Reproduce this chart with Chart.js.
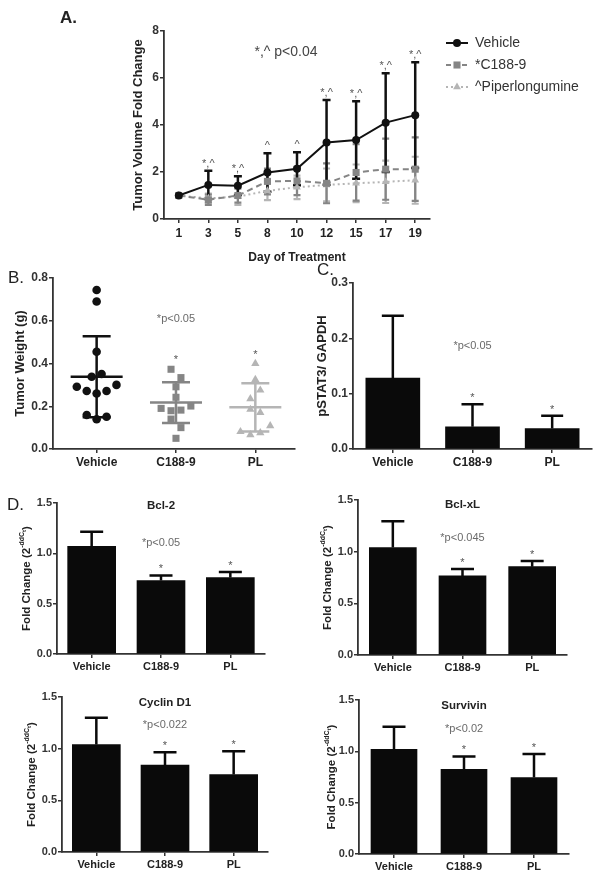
<!DOCTYPE html>
<html><head><meta charset="utf-8">
<script src="https://cdn.jsdelivr.net/npm/chart.js@4.4.1/dist/chart.umd.min.js"></script>
<style>
html,body{margin:0;padding:0;background:#fff;width:602px;height:881px;overflow:hidden;position:relative;}
canvas{position:absolute;}
</style></head><body>
<canvas id="cA" style="left:0px;top:0px" width="602" height="272"></canvas>
<canvas id="cB" style="left:0px;top:258px" width="300" height="215"></canvas>
<canvas id="cC" style="left:290px;top:255px" width="312" height="218"></canvas>
<canvas id="cBcl2" style="left:0px;top:490px" width="300" height="190"></canvas>
<canvas id="cBclxl" style="left:300px;top:490px" width="302" height="190"></canvas>
<canvas id="cCyc" style="left:0px;top:685px" width="300" height="196"></canvas>
<canvas id="cSurv" style="left:300px;top:685px" width="302" height="196"></canvas>
<script>
// ---------------- DATA ----------------
// Panel A: tumor volume fold change
const days = ['1','3','5','8','10','12','15','17','19'];
const vehicleFold   = [1.0, 1.45, 1.42, 1.98, 2.14, 3.26, 3.36, 4.10, 4.42];
const vehicleFoldSD = [0,   0.60, 0.40, 0.82, 0.70, 1.80, 1.65, 2.10, 2.25];
const c188Fold      = [1.0, 0.82, 1.00, 1.60, 1.62, 1.52, 1.98, 2.12, 2.12];
const c188FoldSD    = [0,   0.22, 0.30, 0.55, 0.60, 0.85, 1.20, 1.30, 1.35];
const plFold        = [1.0, 0.88, 0.95, 1.20, 1.35, 1.45, 1.52, 1.58, 1.65];
const plFoldSD      = [0,   0.20, 0.35, 0.40, 0.50, 0.70, 0.80, 0.90, 1.00];
const foldSig       = ['', '*,^', '*,^', '^', '^', '*,^', '*,^', '*,^', '*,^'];
const seriesNames   = ['Vehicle', '*C188-9', '^Piperlongumine'];

// Panel B: tumor weight (g)
const groups = ['Vehicle', 'C188-9', 'PL'];
const weightVehicle = [0.744, 0.69, 0.455, 0.338, 0.351, 0.291, 0.271, 0.26, 0.271, 0.30, 0.159, 0.139, 0.151];
const weightC188    = [0.373, 0.334, 0.291, 0.242, 0.19, 0.179, 0.182, 0.201, 0.14, 0.10, 0.05];
const weightPL      = [0.40, 0.325, 0.235, 0.275, 0.185, 0.17, 0.081, 0.066, 0.076, 0.108];
const weightMean    = [0.338, 0.217, 0.195];
const weightSD      = [0.19, 0.095, 0.113];
const weightSig     = ['', '*', '*'];

// Panel C: pSTAT3 / GAPDH
const pstat    = [0.128, 0.040, 0.037];
const pstatErr = [0.113, 0.041, 0.023];

// Panel D: qPCR fold change
const bcl2      = [1.07, 0.73, 0.76];
const bcl2Err   = [0.145, 0.05, 0.055];
const bclxl     = [1.04, 0.765, 0.855];
const bclxlErr  = [0.255, 0.067, 0.055];
const cyclin    = [1.04, 0.84, 0.75];
const cyclinErr = [0.26, 0.125, 0.225];
const survivin    = [1.02, 0.825, 0.745];
const survivinErr = [0.22, 0.125, 0.23];
const barSig = ['', '*', '*'];

// ---------------- STYLE ----------------
const FONT = '"Liberation Sans", Arial, Helvetica, sans-serif';
const VEH = '#111111', C188 = '#858585', PL = '#b5b5b5', AXIS = '#333333', TXT = '#222222', NOTE = '#6a6a6a';
Chart.defaults.font.family = FONT;
Chart.defaults.color = TXT;
Chart.defaults.animation = false;
Chart.defaults.responsive = false;
Chart.defaults.devicePixelRatio = 1;
Chart.defaults.plugins.legend.display = false;
Chart.defaults.plugins.tooltip.enabled = false;

function yScale(min, max, step, fs, width, dec) {
  return {
    min: min, max: max,
    ticks: {stepSize: step, font: {size: fs, weight: 'bold'}, color: '#333', padding: 1,
            callback: v => dec ? Number(v).toFixed(dec) : v},
    grid: {display: true, drawOnChartArea: false, drawTicks: true, tickLength: 4, color: AXIS, lineWidth: 1.5},
    border: {display: true, color: AXIS, width: 1.8},
    afterFit(s) { s.width = width; }
  };
}
function xCat(fs, height, pad) {
  return {
    type: 'category', offset: true,
    ticks: {font: {size: fs, weight: 'bold'}, color: TXT, padding: pad, maxRotation: 0, autoSkip: false},
    grid: {display: true, offset: false, drawOnChartArea: false, drawTicks: true, tickLength: 4, color: AXIS, lineWidth: 1.5},
    border: {display: true, color: AXIS, width: 1.8},
    afterFit(s) { s.height = height; }
  };
}
function text(ctx, str, x, y, font, color, align, base) {
  ctx.save();
  ctx.font = font; ctx.fillStyle = color || TXT;
  ctx.textAlign = align || 'center'; ctx.textBaseline = base || 'middle';
  ctx.fillText(str, x, y);
  ctx.restore();
}
function yTitle(chart, offset, parts) {
  const {ctx, chartArea} = chart;
  ctx.save();
  ctx.translate(chartArea.left - offset, (chartArea.top + chartArea.bottom) / 2);
  ctx.rotate(-Math.PI / 2);
  let total = 0;
  parts.forEach(p => { ctx.font = p.font; p.w = ctx.measureText(p.text).width; total += p.w; });
  let x = -total / 2;
  ctx.fillStyle = TXT; ctx.textBaseline = 'middle'; ctx.textAlign = 'left';
  parts.forEach(p => { ctx.font = p.font; ctx.fillText(p.text, x, p.dy || 0); x += p.w; });
  ctx.restore();
}
function marker(ctx, style, x, y, r, color) {
  ctx.save();
  ctx.fillStyle = color; ctx.beginPath();
  if (style === 'circle') ctx.arc(x, y, r, 0, Math.PI * 2);
  else if (style === 'rect') { const s = r * Math.SQRT1_2; ctx.rect(x - s, y - s, 2 * s, 2 * s); }
  else { ctx.moveTo(x, y - r); ctx.lineTo(x + r * 0.866, y + r * 0.5); ctx.lineTo(x - r * 0.866, y + r * 0.5); ctx.closePath(); }
  ctx.fill();
  ctx.restore();
}
function errBar(ctx, x, yLo, yHi, cap, color, lw, both) {
  ctx.save();
  ctx.strokeStyle = color; ctx.lineWidth = lw; ctx.setLineDash([]);
  ctx.beginPath();
  ctx.moveTo(x, yLo); ctx.lineTo(x, yHi);
  ctx.moveTo(x - cap / 2, yHi); ctx.lineTo(x + cap / 2, yHi);
  if (both) { ctx.moveTo(x - cap / 2, yLo); ctx.lineTo(x + cap / 2, yLo); }
  ctx.stroke();
  ctx.restore();
}

// ---------------- PANEL A ----------------
const foldSeries = [
  {vals: plFold, sd: plFoldSD, color: PL, lw: 2.2, cap: 7},
  {vals: c188Fold, sd: c188FoldSD, color: C188, lw: 2.2, cap: 7},
  {vals: vehicleFold, sd: vehicleFoldSD, color: VEH, lw: 2.5, cap: 8}
];
new Chart(document.getElementById('cA'), {
  type: 'line',
  data: {
    labels: days,
    datasets: [
      {label: seriesNames[0], data: vehicleFold, borderColor: VEH, backgroundColor: VEH, borderWidth: 2,
       pointStyle: 'circle', pointRadius: 4, pointBorderWidth: 0, pointBackgroundColor: VEH},
      {label: seriesNames[1], data: c188Fold, borderColor: C188, backgroundColor: C188, borderWidth: 2, borderDash: [6, 4],
       pointStyle: 'rect', pointRadius: 5, pointBorderWidth: 0, pointBackgroundColor: C188},
      {label: seriesNames[2], data: plFold, borderColor: PL, backgroundColor: PL, borderWidth: 2, borderDash: [2, 3],
       pointStyle: 'triangle', pointRadius: 4.5, pointBorderWidth: 0, pointBackgroundColor: PL}
    ]
  },
  options: {
    layout: {padding: {left: 0, top: 31, right: 172, bottom: 0}},
    scales: {
      x: Object.assign(xCat(12, 53, 3), {title: {display: true, text: 'Day of Treatment', font: {size: 12, weight: 'bold'}, color: TXT, padding: {top: 4, bottom: 7}}}),
      y: yScale(0, 8, 2, 12, 164, 0)
    }
  },
  plugins: [{
    id: 'foldDeco',
    beforeDatasetsDraw(chart) {
      const {ctx} = chart, xs = chart.scales.x, ys = chart.scales.y;
      foldSeries.forEach(s => {
        s.vals.forEach((v, i) => {
          if (!s.sd[i]) return;
          const x = xs.getPixelForValue(i);
          errBar(ctx, x, ys.getPixelForValue(v - s.sd[i]), ys.getPixelForValue(v + s.sd[i]), s.cap, s.color, s.lw, true);
        });
      });
    },
    afterDraw(chart) {
      const {ctx} = chart, xs = chart.scales.x, ys = chart.scales.y;
      foldSig.forEach((t, i) => {
        if (!t) return;
        const y = ys.getPixelForValue(vehicleFold[i] + vehicleFoldSD[i]) - 4;
        text(ctx, t, xs.getPixelForValue(i), y, '11px ' + FONT, '#555', 'center', 'alphabetic');
      });
      yTitle(chart, 26, [{text: 'Tumor Volume Fold Change', font: 'bold 13px ' + FONT}]);
      text(ctx, 'A.', 60, 18, 'bold 17px ' + FONT, TXT, 'left');
      text(ctx, '*,^ p<0.04', 286, 52, '14px ' + FONT, '#444');
      // legend
      const styles = ['circle', 'rect', 'triangle'], colors = [VEH, C188, PL], dashes = [[], [5, 3], [2, 3]], rad = [4, 5, 4.5];
      chart.data.datasets.forEach((d, i) => {
        const y = 43 + i * 22;
        ctx.save();
        ctx.strokeStyle = colors[i]; ctx.lineWidth = 2; ctx.setLineDash(dashes[i]);
        ctx.beginPath(); ctx.moveTo(446, y); ctx.lineTo(468, y); ctx.stroke();
        ctx.restore();
        marker(ctx, styles[i], 457, y, rad[i], colors[i]);
        text(ctx, d.label, 475, y, '14px ' + FONT, '#333', 'left');
      });
    }
  }]
});

// ---------------- PANEL B ----------------
function swarm(values, center, thresh, step) {
  const out = []; let row = [];
  const flush = () => { row.forEach((v, i) => out.push({x: center + (i - (row.length - 1) / 2) * step, y: v})); row = []; };
  values.forEach(v => { if (row.length && Math.abs(v - row[0]) > thresh) flush(); row.push(v); });
  flush();
  return out;
}
const weightSets = [weightVehicle, weightC188, weightPL];
const grpColors = [VEH, C188, PL], grpStyles = ['circle', 'rect', 'triangle'], grpRadius = [4.3, 5, 4.8];
new Chart(document.getElementById('cB'), {
  type: 'scatter',
  data: {
    datasets: weightSets.map((vals, g) => ({
      label: groups[g], data: swarm(vals, g + 1, 0.042, 0.125),
      pointStyle: grpStyles[g], pointRadius: grpRadius[g], pointBorderWidth: 0,
      pointBackgroundColor: grpColors[g], backgroundColor: grpColors[g]
    }))
  },
  options: {
    layout: {padding: {left: 0, top: 20, right: 3, bottom: 0}},
    scales: {
      x: {
        type: 'linear', min: 0.45, max: 3.5,
        afterBuildTicks(s) { s.ticks = groups.map((g, i) => ({value: i + 1})); },
        ticks: {font: {size: 12, weight: 'bold'}, color: TXT, padding: 2, callback: v => groups[v - 1]},
        grid: {display: true, drawOnChartArea: false, drawTicks: true, tickLength: 4, color: AXIS, lineWidth: 1.5},
        border: {display: true, color: AXIS, width: 1.8},
        afterFit(s) { s.height = 24; }
      },
      y: yScale(0, 0.8, 0.2, 12, 53, 1)
    }
  },
  plugins: [{
    id: 'weightDeco',
    beforeDatasetsDraw(chart) {
      const {ctx} = chart, xs = chart.scales.x, ys = chart.scales.y;
      weightMean.forEach((m, g) => {
        const cx = xs.getPixelForValue(g + 1);
        const ym = ys.getPixelForValue(m), yt = ys.getPixelForValue(m + weightSD[g]), yb = ys.getPixelForValue(m - weightSD[g]);
        ctx.save();
        ctx.strokeStyle = grpColors[g]; ctx.lineWidth = 2.5;
        ctx.beginPath();
        ctx.moveTo(cx - 26, ym); ctx.lineTo(cx + 26, ym);
        ctx.moveTo(cx, yb); ctx.lineTo(cx, yt);
        ctx.moveTo(cx - 14, yt); ctx.lineTo(cx + 14, yt);
        ctx.moveTo(cx - 14, yb); ctx.lineTo(cx + 14, yb);
        ctx.stroke();
        ctx.restore();
      });
    },
    afterDraw(chart) {
      const {ctx} = chart, xs = chart.scales.x, ys = chart.scales.y;
      weightSig.forEach((t, g) => {
        if (!t) return;
        const top = ys.getPixelForValue(Math.max(...weightSets[g]));
        text(ctx, t, xs.getPixelForValue(g + 1), top - 6, '11px ' + FONT, '#555', 'center', 'alphabetic');
      });
      text(ctx, '*p<0.05', xs.getPixelForValue(2), ys.getPixelForValue(0.61), '11px ' + FONT, NOTE);
      yTitle(chart, 33, [{text: 'Tumor Weight (g)', font: 'bold 13px ' + FONT}]);
      text(ctx, 'B.', 8, 20, '17px ' + FONT, TXT, 'left');
    }
  }]
});

// ---------------- BAR PANELS ----------------
function barChart(id, vals, errs, cfg) {
  new Chart(document.getElementById(id), {
    type: 'bar',
    data: {labels: groups, datasets: [{data: vals, backgroundColor: '#0a0a0a', borderWidth: 0, barThickness: cfg.bw}]},
    options: {
      layout: {padding: {left: 0, top: cfg.padTop, right: cfg.padRight, bottom: 0}},
      scales: {
        x: xCat(cfg.xfs, cfg.xH, cfg.xPad),
        y: yScale(0, cfg.max, cfg.step, cfg.yfs, cfg.yW, 1)
      }
    },
    plugins: [{
      id: 'barDeco',
      afterDraw(chart) {
        const {ctx, chartArea} = chart, xs = chart.scales.x, ys = chart.scales.y;
        vals.forEach((v, i) => {
          const x = xs.getPixelForValue(i);
          const y1 = ys.getPixelForValue(v + errs[i]);
          errBar(ctx, x, ys.getPixelForValue(v), y1, cfg.cap, '#0a0a0a', 2.5, false);
          if (barSig[i]) text(ctx, barSig[i], x, y1 - 3, '11px ' + FONT, '#555', 'center', 'alphabetic');
        });
        text(ctx, cfg.pText, xs.getPixelForValue(1), ys.getPixelForValue(cfg.pY), '11px ' + FONT, NOTE);
        if (cfg.title) text(ctx, cfg.title, (chartArea.left + chartArea.right) / 2, chartArea.top + cfg.titleDy, 'bold 11.5px ' + FONT, TXT);
        yTitle(chart, cfg.ytOff, cfg.yTitle);
        if (cfg.letter) text(ctx, cfg.letter, cfg.letterX, cfg.letterY, '17px ' + FONT, TXT, 'left');
      }
    }]
  });
}
const foldTitle = [
  {text: 'Fold Change (2', font: 'bold 11.5px ' + FONT},
  {text: '-ddC', font: 'bold 7px ' + FONT, dy: -5},
  {text: 't', font: 'bold 6px ' + FONT, dy: -3},
  {text: ')', font: 'bold 11.5px ' + FONT}
];
barChart('cC', pstat, pstatErr, {bw: 54, padTop: 28, padRight: 10, xfs: 12, xH: 24, xPad: 2, max: 0.3, step: 0.1, yfs: 12, yW: 63,
  cap: 22, pText: '*p<0.05', pY: 0.186, ytOff: 31, yTitle: [{text: 'pSTAT3/ GAPDH', font: 'bold 13px ' + FONT}],
  letter: 'C.', letterX: 27, letterY: 15});
barChart('cBcl2', bcl2, bcl2Err, {bw: 48, padTop: 13, padRight: 35, xfs: 11, xH: 26, xPad: 2, max: 1.5, step: 0.5, yfs: 11, yW: 57,
  cap: 23, pText: '*p<0.05', pY: 1.10, title: 'Bcl-2', titleDy: 3, ytOff: 30, yTitle: foldTitle,
  letter: 'D.', letterX: 7, letterY: 15});
barChart('cBclxl', bclxl, bclxlErr, {bw: 47, padTop: 10, padRight: 35, xfs: 11, xH: 25, xPad: 2, max: 1.5, step: 0.5, yfs: 11, yW: 58,
  cap: 23, pText: '*p<0.045', pY: 1.13, title: 'Bcl-xL', titleDy: 5, ytOff: 30, yTitle: foldTitle});
barChart('cCyc', cyclin, cyclinErr, {bw: 48, padTop: 12, padRight: 32, xfs: 11, xH: 29, xPad: 2, max: 1.5, step: 0.5, yfs: 11, yW: 62,
  cap: 23, pText: '*p<0.022', pY: 1.23, title: 'Cyclin D1', titleDy: 6, ytOff: 30, yTitle: foldTitle});
barChart('cSurv', survivin, survivinErr, {bw: 46, padTop: 15, padRight: 33, xfs: 11, xH: 27, xPad: 2, max: 1.5, step: 0.5, yfs: 11, yW: 59,
  cap: 23, pText: '*p<0.02', pY: 1.22, title: 'Survivin', titleDy: 6, ytOff: 27, yTitle: foldTitle});
</script>
</body></html>
